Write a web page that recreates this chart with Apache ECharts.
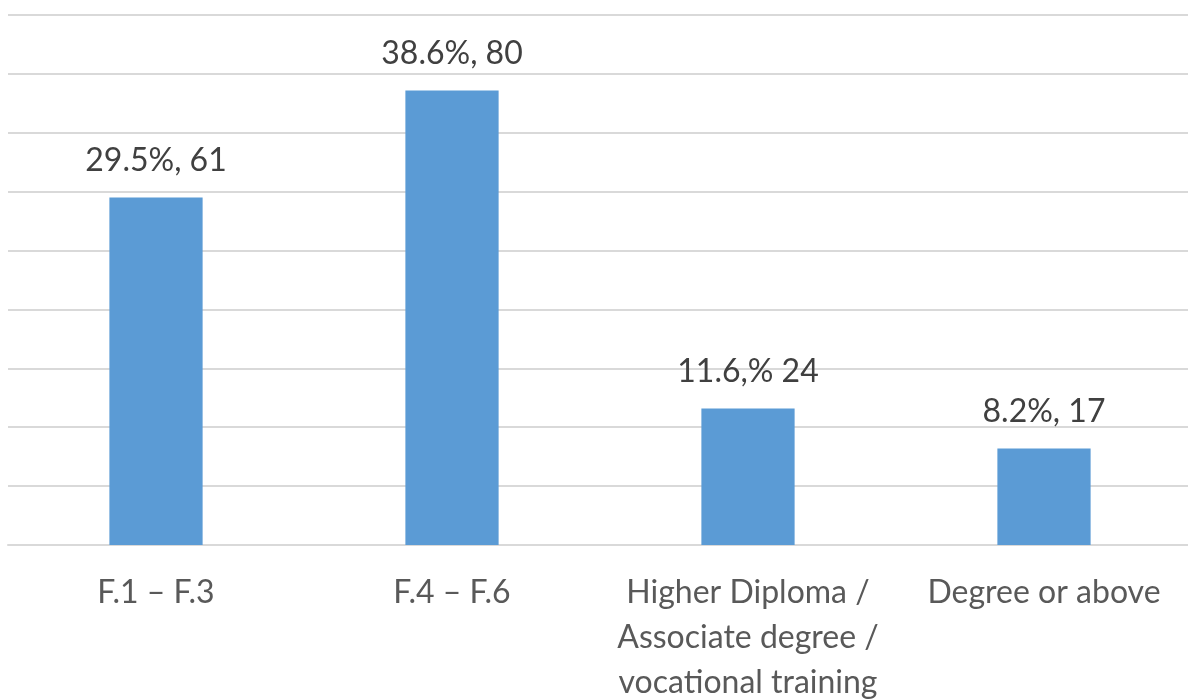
<!DOCTYPE html>
<html>
<head>
<meta charset="utf-8">
<script src="https://cdn.jsdelivr.net/npm/echarts@6/dist/echarts.min.js"></script>
<style>
html,body{margin:0;padding:0;background:#fff;}
#chart{width:1188px;height:699px;}
</style>
</head>
<body>
<div id="chart"></div>
<script>
const categories = ["F.1 \u2013 F.3", "F.4 \u2013 F.6", "Higher Diploma /\nAssociate degree /\nvocational training", "Degree or above"];
const percents = [29.5, 38.6, 11.6, 8.2];
const counts = [61, 80, 24, 17];
const labelTexts = ["29.5%, 61", "38.6%, 80", "11.6,% 24", "8.2%, 17"];

const chart = echarts.init(document.getElementById('chart'));
chart.setOption({
  animation: false,
  grid: { left: 8, right: -4, top: 15, bottom: 154, containLabel: false, outerBoundsMode: 'none' },
  xAxis: {
    type: 'category',
    data: categories,
    axisLine: { show: true, lineStyle: { color: '#d9d9d9', width: 2 } },
    axisTick: { show: false },
    axisLabel: {
      interval: 0,
      margin: 25,
      color: '#595959',
      fontFamily: 'Lato',
      fontSize: 32,
      lineHeight: 45
    }
  },
  yAxis: {
    type: 'value',
    min: 0, max: 45, interval: 5,
    axisLabel: { show: false },
    axisLine: { show: false },
    axisTick: { show: false },
    splitLine: { lineStyle: { color: '#d9d9d9', width: 2 } }
  },
  series: [{
    type: 'bar',
    data: percents,
    barWidth: '31.5%',
    itemStyle: { color: '#5b9bd5' },
    label: {
      show: true,
      position: 'top',
      distance: 21,
      color: '#404040',
      fontFamily: 'Lato',
      fontSize: 32,
      formatter: p => labelTexts[p.dataIndex]
    }
  }]
});
</script>
</body>
</html>
